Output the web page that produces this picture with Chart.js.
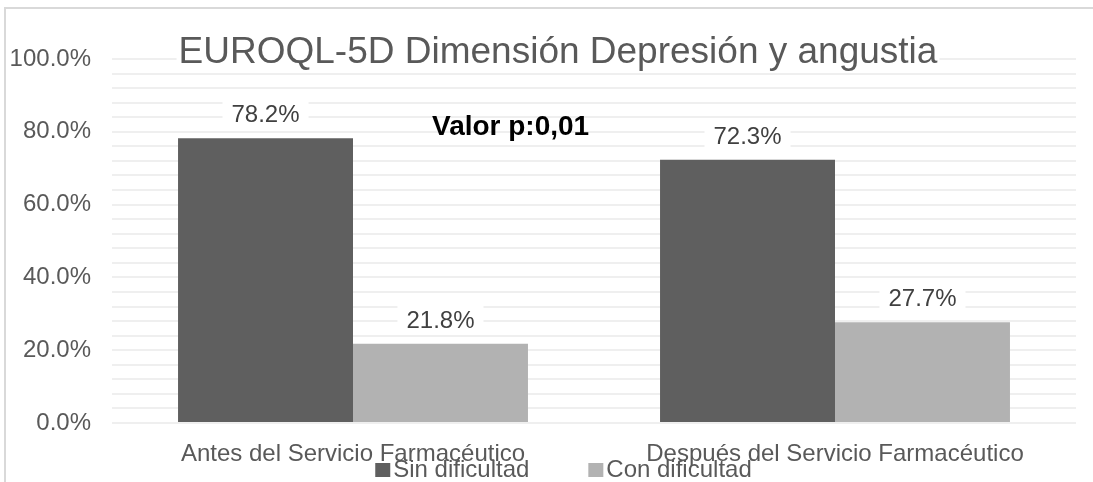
<!DOCTYPE html>
<html><head><meta charset="utf-8">
<script src="https://cdn.jsdelivr.net/npm/chart.js@4/dist/chart.umd.min.js"></script>
<style>
html,body{margin:0;padding:0;background:#fff;}
#wrap{position:relative;width:1093px;height:482px;overflow:hidden;background:#fff;}
#frame{position:absolute;left:4px;top:7px;width:1200px;height:600px;border:2px solid #d9d9d9;box-sizing:border-box;}
canvas{position:absolute;left:0;top:0;}
</style></head><body>
<div id="wrap"><div id="frame"></div><canvas id="c" width="1093" height="482"></canvas></div>
<script>
const categories = ['Antes del Servicio Farmacéutico', 'Después del Servicio Farmacéutico'];
const seriesNames = ['Sin dificultad', 'Con dificultad'];
const sinDificultad = [78.2, 72.3];
const conDificultad = [21.8, 27.7];
const yTickLabels = ['0.0%', '20.0%', '40.0%', '60.0%', '80.0%', '100.0%'];
const chartTitle = 'EUROQL-5D Dimensión Depresión y angustia';
const annotationText = 'Valor p:0,01';

const FONT = '"Liberation Sans", Arial, sans-serif';
const seriesColors = ['#5f5f5f', '#b2b2b2'];

const overlayPlugin = {
  id: 'overlay',
  afterDatasetsDraw(chart) {
    const ctx = chart.ctx;
    ctx.save();
    ctx.font = '24px ' + FONT;
    ctx.textAlign = 'center';
    ctx.textBaseline = 'alphabetic';
    chart.data.datasets.forEach((ds, i) => {
      const meta = chart.getDatasetMeta(i);
      meta.data.forEach((bar, j) => {
        const txt = ds.data[j].toFixed(1) + '%';
        const w = ctx.measureText(txt).width;
        const cx = bar.x, by = bar.y - 16;
        ctx.fillStyle = '#ffffff';
        ctx.fillRect(cx - w / 2 - 9, by - 23, w + 18, 29);
        ctx.fillStyle = '#404040';
        ctx.fillText(txt, cx, by);
      });
    });
    ctx.restore();
  },
  afterDraw(chart) {
    const ctx = chart.ctx;
    ctx.save();
    ctx.textBaseline = 'alphabetic';
    // title
    ctx.font = '37px ' + FONT;
    ctx.textAlign = 'center';
    const tw = ctx.measureText(chartTitle).width;
    const tx = 558, ty = 63;
    ctx.fillStyle = '#ffffff';
    ctx.fillRect(tx - tw / 2 - 2, ty - 30, tw + 4, 38);
    ctx.fillStyle = '#595959';
    ctx.fillText(chartTitle, tx, ty);
    // annotation
    ctx.font = 'bold 28px ' + FONT;
    ctx.textAlign = 'left';
    ctx.fillStyle = '#000000';
    ctx.fillText(annotationText, 432, 135);
    // legend
    ctx.font = '24px ' + FONT;
    const boxW = 15, boxH = 14, boxGap = 3, itemGap = 59;
    const items = chart.data.datasets.map((ds) => ({
      text: ds.label, color: ds.backgroundColor,
      w: boxW + boxGap + ctx.measureText(ds.label).width
    }));
    const total = items.reduce((s, it) => s + it.w, 0) + itemGap * (items.length - 1);
    let x = 563.5 - total / 2;
    const ly = 477;
    items.forEach(it => {
      ctx.fillStyle = it.color;
      ctx.fillRect(x, ly - 14, boxW, boxH);
      ctx.fillStyle = '#595959';
      ctx.fillText(it.text, x + boxW + boxGap, ly);
      x += it.w + itemGap;
    });
    ctx.restore();
  }
};

new Chart(document.getElementById('c'), {
  type: 'bar',
  data: {
    labels: categories,
    datasets: [
      { label: seriesNames[0], data: sinDificultad, backgroundColor: seriesColors[0] },
      { label: seriesNames[1], data: conDificultad, backgroundColor: seriesColors[1] }
    ]
  },
  options: {
    responsive: false,
    animation: false,
    devicePixelRatio: 1,
    layout: { padding: { top: 59, right: 17, bottom: 0, left: 0 } },
    plugins: { legend: { display: false }, title: { display: false }, tooltip: { enabled: false } },
    datasets: { bar: { categoryPercentage: 0.726, barPercentage: 1.0 } },
    scales: {
      x: {
        grid: { display: false },
        border: { display: false },
        ticks: { font: { family: FONT, size: 24 }, color: '#595959', padding: 9, maxRotation: 0, autoSkip: false },
        afterFit(scale) { scale.height = 59; }
      },
      y: {
        min: 0, max: 100,
        grid: { color: '#efefef', lineWidth: 2, drawTicks: false },
        border: { display: false },
        ticks: {
          stepSize: 4, autoSkip: false, padding: 21,
          font: { family: FONT, size: 24 }, color: '#595959',
          callback(v) { const r = Math.round(v); return r % 20 === 0 ? yTickLabels[r / 20] : ''; }
        },
        afterFit(scale) { scale.width = 112; }
      }
    }
  },
  plugins: [overlayPlugin]
});
</script>
</body></html>
